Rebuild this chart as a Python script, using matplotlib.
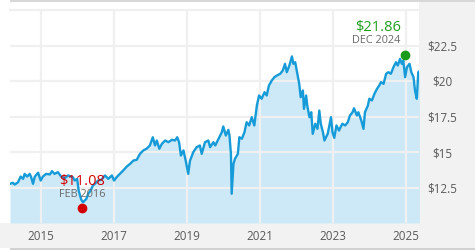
import matplotlib
matplotlib.use("Agg")
import matplotlib.pyplot as plt
from matplotlib.patches import Rectangle

plt.rcParams['font.family'] = ['Open Sans', 'DejaVu Sans']

# price history (decimal year, price in $)
years = [
    2014.16, 2014.24, 2014.29, 2014.38, 2014.45, 2014.52, 2014.56, 2014.63, 2014.70, 2014.74,
    2014.79, 2014.84, 2014.93, 2015.00, 2015.06, 2015.15, 2015.25, 2015.31, 2015.38, 2015.47,
    2015.56, 2015.66, 2015.75, 2015.88, 2015.93, 2016.00, 2016.04, 2016.11, 2016.16, 2016.25,
    2016.30, 2016.37, 2016.43, 2016.50, 2016.57, 2016.66, 2016.76, 2016.85, 2016.95, 2017.01,
    2017.08, 2017.17, 2017.26, 2017.36, 2017.45, 2017.54, 2017.63, 2017.72, 2017.81, 2017.90,
    2017.99, 2018.07, 2018.13, 2018.18, 2018.25, 2018.32, 2018.41, 2018.50, 2018.59, 2018.68,
    2018.74, 2018.79, 2018.84, 2018.91, 2018.98, 2019.04, 2019.09, 2019.18, 2019.27, 2019.36,
    2019.41, 2019.50, 2019.59, 2019.64, 2019.73, 2019.78, 2019.87, 2019.96, 2020.00, 2020.07,
    2020.14, 2020.17, 2020.21, 2020.23, 2020.28, 2020.32, 2020.40, 2020.44, 2020.51, 2020.58,
    2020.64, 2020.71, 2020.78, 2020.85, 2020.92, 2020.98, 2021.05, 2021.13, 2021.19, 2021.25,
    2021.33, 2021.40, 2021.47, 2021.56, 2021.63, 2021.69, 2021.74, 2021.81, 2021.88, 2021.92,
    2021.97, 2022.03, 2022.08, 2022.12, 2022.18, 2022.21, 2022.27, 2022.30, 2022.36, 2022.41,
    2022.45, 2022.52, 2022.58, 2022.63, 2022.67, 2022.73, 2022.77, 2022.86, 2022.95, 2022.99,
    2023.04, 2023.10, 2023.17, 2023.20, 2023.26, 2023.34, 2023.41, 2023.47, 2023.54, 2023.58,
    2023.66, 2023.70, 2023.78, 2023.84, 2023.88, 2023.96, 2024.00, 2024.07, 2024.14, 2024.21,
    2024.27, 2024.32, 2024.39, 2024.46, 2024.52, 2024.59, 2024.66, 2024.73, 2024.78, 2024.84,
    2024.89, 2024.93, 2024.98, 2025.03, 2025.10, 2025.15, 2025.21, 2025.25, 2025.30, 2025.34,
    2025.37,
]
prices = [
    12.76, 12.83, 12.71, 12.87, 13.27, 13.11, 13.46, 13.27, 13.46, 13.23,
    12.76, 13.27, 13.54, 12.99, 13.27, 13.46, 13.42, 13.65, 13.46, 13.58,
    13.27, 13.15, 13.35, 13.23, 12.99, 13.11, 12.29, 11.65, 11.46, 11.70,
    12.06, 12.29, 12.64, 12.80, 12.99, 13.04, 13.35, 13.11, 13.35, 12.99,
    13.23, 13.46, 13.70, 13.98, 14.17, 14.40, 14.45, 14.87, 15.11, 15.23,
    15.46, 16.04, 15.46, 15.81, 15.23, 15.58, 15.81, 15.69, 15.86, 15.81,
    16.04, 15.69, 14.75, 15.11, 14.28, 13.46, 14.40, 14.99, 15.34, 15.46,
    14.87, 15.69, 15.81, 15.34, 15.69, 15.46, 15.93, 16.39, 16.80, 16.16,
    16.56, 16.16, 14.87, 12.06, 14.17, 14.52, 14.87, 16.04, 15.93, 16.39,
    17.10, 16.87, 17.45, 16.87, 18.27, 18.98, 18.75, 19.21, 18.98, 19.68,
    20.04, 20.27, 20.39, 20.51, 20.74, 21.21, 20.62, 21.09, 21.73, 21.21,
    21.32, 20.51, 19.80, 18.86, 19.33, 18.04, 18.98, 18.27, 17.45, 17.80,
    16.28, 16.99, 16.63, 17.92, 16.99, 16.39, 15.81, 16.28, 17.45, 16.39,
    16.00, 16.87, 16.51, 16.68, 16.99, 16.87, 17.10, 17.57, 17.80, 18.08,
    17.57, 17.80, 17.22, 16.63, 17.80, 18.27, 18.75, 18.63, 19.10, 19.45,
    19.68, 19.92, 19.80, 20.51, 20.62, 20.51, 20.97, 21.32, 21.09, 21.56,
    21.21, 21.44, 20.27, 20.97, 21.21, 20.62, 20.27, 19.33, 18.75, 20.62,
    20.69,
]

# marked extremes
high_year, high_price, high_label = 2024.97, 21.86, "DEC 2024"
low_year, low_price, low_label = 2016.14, 11.08, "FEB 2016"

x_ticks = [2015, 2017, 2019, 2021, 2023, 2025]
x_tick_labels = ["2015", "2017", "2019", "2021", "2023", "2025"]
y_ticks = [12.5, 15, 17.5, 20, 22.5]
y_tick_labels = ["$12.5", "$15", "$17.5", "$20", "$22.5"]

W, H = 475, 250
LINE = "#169bd8"
FILL = "#cde9f7"
GRID = "#f0f0f0"
PANEL = "#f2f2f2"
TXT = "#5a5a5a"


def px_rect(fig, x0, y0, x1, y1, color):
    """Rectangle given in pixel coords (origin top-left)"""
    fig.patches.append(Rectangle((x0 / W, 1 - y1 / H), (x1 - x0) / W, (y1 - y0) / H,
                                 transform=fig.transFigure, facecolor=color,
                                 edgecolor="none", zorder=-1))


fig = plt.figure(figsize=(W / 100, H / 100), dpi=100)
fig.patch.set_facecolor("white")

# frame panels around the plot
px_rect(fig, 419, 0, W, 248, PANEL)
px_rect(fig, 0, 223, W, 248, PANEL)
px_rect(fig, 10, 0, W, 2, "#d8d8d8")
px_rect(fig, 10, 247.5, W, H, "#d2d2d2")

ax = fig.add_axes([10 / W, 27 / H, 409 / W, 213 / H])
ax.set_facecolor("white")

ax.fill_between(years, prices, 10, color=FILL, linewidth=0, zorder=1)
ax.plot(years, prices, color=LINE, linewidth=1.7, zorder=3, solid_joinstyle="round")

ax.set_xlim(2014.16, 2025.36)
ax.set_ylim(10, 25)

ax.set_xticks(x_ticks)
ax.set_xticklabels(x_tick_labels)
ax.set_yticks(y_ticks)
ax.set_yticklabels(y_tick_labels)
ax.yaxis.tick_right()
ax.tick_params(axis="both", length=0, colors=TXT, labelsize=8.4)
ax.tick_params(axis="x", pad=5)
ax.tick_params(axis="y", pad=16.5)
for lbl in ax.get_yticklabels():
    lbl.set_horizontalalignment("center")

ax.grid(True, color=GRID, linewidth=1.6)
for side in ["left", "right", "bottom"]:
    ax.spines[side].set_visible(False)
ax.spines["top"].set_color(GRID)
ax.spines["top"].set_linewidth(1.6)

# high marker
ax.plot([high_year], [high_price], "o", color="#1a9a1a", markersize=6, zorder=5,
        clip_on=False)
ax.annotate(f"${high_price:.2f}", (high_year, high_price), xytext=(-4, 23.5),
            textcoords="offset pixels", ha="right", va="baseline",
            color="#1f9e1f", fontsize=10.5, zorder=6)
ax.annotate(high_label, (high_year, high_price), xytext=(-4, 11.5),
            textcoords="offset pixels", ha="right", va="baseline",
            color="#6a6a6a", fontsize=7.8, zorder=6)

# low marker
ax.plot([low_year], [low_price], "o", color="#d40000", markersize=6, zorder=5,
        clip_on=False)
ax.annotate(f"${low_price:.2f}", (low_year, low_price), xytext=(0, 23),
            textcoords="offset pixels", ha="center", va="baseline",
            color="#d40000", fontsize=10.5, zorder=6)
ax.annotate(low_label, (low_year, low_price), xytext=(0, 11),
            textcoords="offset pixels", ha="center", va="baseline",
            color="#6a6a6a", fontsize=7.8, zorder=6)

fig.savefig("out.png", dpi=100)
